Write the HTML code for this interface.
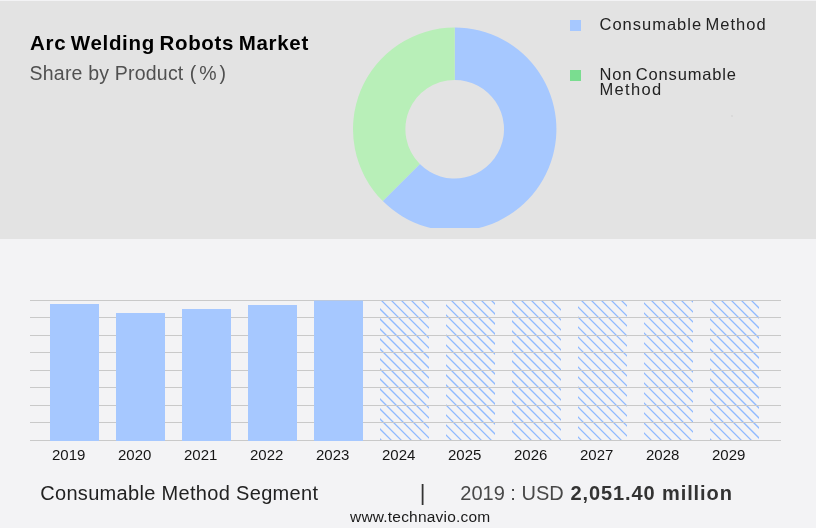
<!DOCTYPE html>
<html><head><meta charset="utf-8">
<style>
html,body{margin:0;padding:0;}
body{width:816px;height:528px;background:#f3f3f5;position:relative;overflow:hidden;font-family:"Liberation Sans",sans-serif;}
#top{position:absolute;left:0;top:1px;width:816px;height:238px;background:#e3e3e3;}
.t{position:absolute;white-space:nowrap;line-height:1;}
svg{position:absolute;left:0;top:0;}
.yr{top:446.6px;font-size:15px;color:#151515;}
</style></head><body>
<div id="top"></div>
<svg width="816" height="528" viewBox="0 0 816 528">
<!-- donut -->
<clipPath id="dc"><rect x="340" y="0" width="230" height="228"/></clipPath>
<g clip-path="url(#dc)">
<path fill="#a6c8ff" d="M454.70,27.50 A101.7,101.7 0 1 1 382.79,201.11 L419.84,164.06 A49.3,49.3 0 1 0 454.70,79.90 Z"/>
<path fill="#b8efb8" d="M382.79,201.11 A101.7,101.7 0 0 1 454.70,27.50 L454.70,79.90 A49.3,49.3 0 0 0 419.84,164.06 Z"/>
</g>
<circle cx="732" cy="116" r="1.1" fill="#d7d7d7"/>
<!-- legend squares -->
<rect x="570" y="20" width="11" height="11" fill="#a6c8ff"/>
<rect x="570" y="70" width="11" height="11" fill="#7add90"/>
<!-- gridlines -->
<clipPath id="hc"><rect x="380" y="301" width="49" height="140"/><rect x="446" y="301" width="49" height="140"/><rect x="512" y="301" width="49" height="140"/><rect x="578" y="301" width="49" height="140"/><rect x="644" y="301" width="49" height="140"/><rect x="710" y="301" width="49" height="140"/></clipPath>
<path clip-path="url(#hc)" d="M378,-83L762,301M378,-73L762,311M378,-63L762,321M378,-53L762,331M378,-43L762,341M378,-33L762,351M378,-23L762,361M378,-13L762,371M378,-3L762,381M378,7L762,391M378,17L762,401M378,27L762,411M378,37L762,421M378,47L762,431M378,57L762,441M378,67L762,451M378,77L762,461M378,87L762,471M378,97L762,481M378,107L762,491M378,117L762,501M378,127L762,511M378,137L762,521M378,147L762,531M378,157L762,541M378,167L762,551M378,177L762,561M378,187L762,571M378,197L762,581M378,207L762,591M378,217L762,601M378,227L762,611M378,237L762,621M378,247L762,631M378,257L762,641M378,267L762,651M378,277L762,661M378,287L762,671M378,297L762,681M378,307L762,691M378,317L762,701M378,327L762,711M378,337L762,721M378,347L762,731M378,357L762,741M378,367L762,751M378,377L762,761M378,387L762,771M378,397L762,781M378,407L762,791M378,417L762,801M378,427L762,811M378,437L762,821M378,447L762,831" stroke="#90baff" stroke-width="1.25" fill="none"/>
<g stroke="#c9c9c9" stroke-width="1" shape-rendering="crispEdges">
<line x1="30" x2="781" y1="300.5" y2="300.5"/>
<line x1="30" x2="781" y1="317.5" y2="317.5"/>
<line x1="30" x2="781" y1="335.5" y2="335.5"/>
<line x1="30" x2="781" y1="352.5" y2="352.5"/>
<line x1="30" x2="781" y1="370.5" y2="370.5"/>
<line x1="30" x2="781" y1="387.5" y2="387.5"/>
<line x1="30" x2="781" y1="405.5" y2="405.5"/>
<line x1="30" x2="781" y1="422.5" y2="422.5"/>
<line x1="30" x2="781" y1="440.5" y2="440.5"/>
</g>
<g fill="#a6c8ff">
<rect x="50" y="304" width="49" height="137"/>
<rect x="116" y="313" width="49" height="128"/>
<rect x="182" y="309" width="49" height="132"/>
<rect x="248" y="305" width="49" height="136"/>
<rect x="314" y="300.6" width="49" height="140.4"/>
</g>

</svg>
<div class="t" id="t1" style="left:30px;top:32.5px;font-size:20.5px;font-weight:bold;color:#000;letter-spacing:0.68px;word-spacing:-1.8px;">Arc Welding Robots Market</div>
<div class="t" id="t2" style="left:29.6px;top:64.4px;font-size:19.5px;color:#505050;letter-spacing:0.2px;">Share by Product <span style="margin-left:0.6px;word-spacing:-2.4px;letter-spacing:0;">( % )</span></div>
<div class="t" id="l1" style="left:599.5px;top:16px;font-size:16.5px;color:#222;letter-spacing:1.0px;word-spacing:-2.2px;">Consumable Method</div>
<div class="t" id="l2" style="left:599.5px;top:65.5px;font-size:16.5px;color:#222;letter-spacing:0.85px;word-spacing:-2px;">Non Consumable</div>
<div class="t" id="l3" style="left:599.5px;top:80.5px;font-size:16.5px;color:#222;letter-spacing:1.35px;">Method</div>
<div class="t" id="b1" style="left:40.2px;top:483.3px;font-size:20px;color:#222;letter-spacing:0.32px;">Consumable Method Segment</div>
<div class="t" id="b2" style="left:419.7px;top:481.5px;font-size:22px;color:#333;">|</div>
<div class="t" id="b3" style="left:460.3px;top:483px;font-size:20px;color:#484848;letter-spacing:0px;">2019 : USD</div>
<div class="t" id="b4" style="left:570.5px;top:483px;font-size:20px;color:#333;font-weight:bold;letter-spacing:0.9px;">2,051.40 million</div>
<div class="t" id="u1" style="left:350px;top:508.8px;font-size:15.5px;color:#1a1a1a;letter-spacing:0.2px;">www.technavio.com</div>
<div class="t yr" style="left:52px;">2019</div>
<div class="t yr" style="left:118px;">2020</div>
<div class="t yr" style="left:184px;">2021</div>
<div class="t yr" style="left:250px;">2022</div>
<div class="t yr" style="left:316px;">2023</div>
<div class="t yr" style="left:382px;">2024</div>
<div class="t yr" style="left:448px;">2025</div>
<div class="t yr" style="left:514px;">2026</div>
<div class="t yr" style="left:580px;">2027</div>
<div class="t yr" style="left:646px;">2028</div>
<div class="t yr" style="left:712px;">2029</div>
</body></html>
